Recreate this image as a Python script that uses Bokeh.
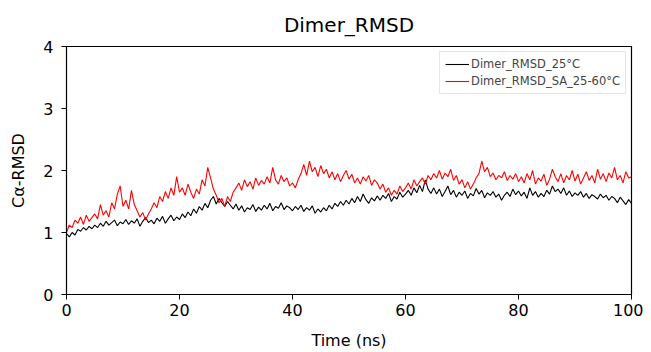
from bokeh.plotting import figure
from bokeh.embed import file_html
from bokeh.resources import INLINE
from bokeh.models import Legend, LegendItem, FixedTicker, Title

time_step = 0.5
time_ns = [i * time_step for i in range(201)]

rmsd_25 = [
    0.98, 0.93, 1.00, 0.96, 1.05, 1.02, 1.08, 1.04, 1.10, 1.06, 1.12,
    1.08, 1.15, 1.10, 1.18, 1.12, 1.16, 1.20, 1.11, 1.17, 1.14,
    1.21, 1.13, 1.19, 1.15, 1.22, 1.10, 1.18, 1.24, 1.16, 1.20,
    1.14, 1.23, 1.18, 1.26, 1.15, 1.22, 1.28, 1.19, 1.25, 1.21,
    1.30, 1.24, 1.33, 1.27, 1.38, 1.31, 1.42, 1.36, 1.47, 1.40,
    1.52, 1.58, 1.46, 1.55, 1.48, 1.42, 1.50, 1.44, 1.38, 1.46,
    1.36, 1.43, 1.33, 1.40, 1.37, 1.45, 1.34, 1.41, 1.36, 1.44,
    1.38, 1.47, 1.35, 1.42, 1.39, 1.48, 1.37, 1.43, 1.40, 1.35,
    1.42, 1.37, 1.44, 1.34, 1.40, 1.36, 1.43, 1.31, 1.38, 1.33,
    1.40, 1.35, 1.44, 1.38, 1.47, 1.42, 1.50, 1.44, 1.52, 1.46,
    1.55, 1.48, 1.58, 1.50, 1.62, 1.53, 1.47, 1.56, 1.51, 1.59,
    1.52, 1.60, 1.55, 1.63, 1.50, 1.58, 1.54, 1.65, 1.57, 1.62,
    1.68, 1.60, 1.72, 1.64, 1.76, 1.66, 1.85, 1.70, 1.63, 1.72,
    1.62, 1.70, 1.58, 1.66, 1.75, 1.61, 1.68, 1.57, 1.65, 1.60,
    1.67, 1.55, 1.63, 1.59, 1.71, 1.62, 1.68, 1.56, 1.64, 1.60,
    1.66, 1.57, 1.62, 1.52, 1.60, 1.65, 1.58, 1.70, 1.61, 1.67,
    1.59, 1.65, 1.55, 1.72, 1.60, 1.66, 1.57, 1.63, 1.58, 1.68,
    1.62, 1.75, 1.66, 1.70, 1.63, 1.72, 1.60, 1.67, 1.58, 1.64,
    1.60, 1.66, 1.57, 1.63, 1.55, 1.61, 1.58, 1.54, 1.62, 1.56,
    1.60, 1.52, 1.58, 1.55, 1.48, 1.57, 1.51, 1.45, 1.53, 1.47,
]

rmsd_sa = [
    1.00, 1.12, 1.08, 1.20, 1.15, 1.25, 1.13, 1.28, 1.18, 1.24, 1.30,
    1.22, 1.45, 1.28, 1.35, 1.25, 1.48, 1.38, 1.62, 1.75, 1.42,
    1.52, 1.38, 1.68, 1.45, 1.35, 1.25, 1.32, 1.20, 1.30, 1.38,
    1.48, 1.40, 1.58, 1.50, 1.66, 1.55, 1.72, 1.60, 1.90, 1.65,
    1.72, 1.60, 1.78, 1.65, 1.55, 1.70, 1.62, 1.85, 1.75, 2.05,
    1.88, 1.70, 1.60, 1.48, 1.55, 1.42, 1.58, 1.50, 1.65, 1.72,
    1.80, 1.68, 1.85, 1.74, 1.82, 1.70, 1.88, 1.76, 1.84, 1.78,
    1.90, 1.80, 2.05, 1.85, 1.78, 1.92, 1.82, 1.88, 1.75, 1.80,
    1.72, 1.85, 1.95, 2.10, 1.92, 2.15, 1.98, 2.05, 1.90, 2.08,
    1.95, 2.02, 1.88, 1.98, 1.85, 1.95, 1.82, 1.92, 2.00, 1.86,
    1.94, 1.80, 1.88, 1.78, 1.90, 1.83, 1.92, 1.76, 1.85, 1.80,
    1.70, 1.78, 1.65, 1.72, 1.60, 1.68, 1.62, 1.75, 1.66, 1.72,
    1.80, 1.70, 1.85, 1.75, 1.82, 1.88, 1.78, 1.92, 1.85, 1.95,
    1.88, 2.00, 1.86, 1.96, 1.90, 2.02, 1.84, 1.92, 1.78, 1.85,
    1.72, 1.82, 1.70, 1.78, 1.88, 1.95, 2.15, 1.98, 2.05, 1.90,
    1.96, 1.85, 1.92, 1.88, 1.98, 1.84, 1.92, 1.86, 1.95, 1.82,
    1.90, 1.80, 1.95, 1.85, 2.00, 1.78, 1.88, 1.83, 1.94, 1.76,
    1.86, 2.02, 1.90, 1.82, 1.95, 1.80, 1.92, 1.85, 2.00, 1.83,
    1.94, 1.78, 1.88, 1.98, 1.84, 1.92, 1.80, 2.02, 1.86, 1.95,
    1.82, 1.96, 1.88, 2.05, 1.85, 1.92, 1.80, 1.98, 1.88, 1.90,
]

x_ticks = [0, 20, 40, 60, 80, 100]
y_ticks = [0, 1, 2, 3, 4]
label_25 = "Dimer_RMSD_25°C"
label_sa = "Dimer_RMSD_SA_25-60°C"

FONT = "DejaVu Sans"

p = figure(width=643, height=352, x_range=(0, 100), y_range=(0, 4),
           output_backend="svg", toolbar_location=None,
           title="Dimer_RMSD", min_border_left=66, min_border_right=12,
           min_border_top=46, min_border_bottom=57)

p.title.align = "center"
p.title.text_font = FONT
p.title.text_font_size = "20px"
p.title.text_font_style = "normal"
p.title.text_color = "#000000"
p.title.standoff = 4

# thin spacer between the title and the frame
p.add_layout(Title(text=" ", text_font_size="5px", standoff=0), "above")

r1 = p.line(time_ns, rmsd_25, line_color="black", line_width=1.1)
r2 = p.line(time_ns, rmsd_sa, line_color="#ff0000", line_width=1.1)

p.xgrid.visible = False
p.ygrid.visible = False
p.outline_line_color = "black"
p.outline_line_width = 1.2

for ax in (p.xaxis[0], p.yaxis[0]):
    ax.major_label_text_font = FONT
    ax.major_label_text_font_size = "16px"
    ax.major_label_text_color = "#000000"
    ax.axis_label_text_font = FONT
    ax.axis_label_text_font_size = "16px"
    ax.axis_label_text_font_style = "normal"
    ax.axis_label_text_color = "#000000"
    ax.minor_tick_line_color = None
    ax.major_tick_out = 5
    ax.major_tick_in = 0
    ax.major_tick_line_color = "black"
    ax.axis_line_color = "black"

p.xaxis.ticker = FixedTicker(ticks=x_ticks)
p.yaxis.ticker = FixedTicker(ticks=y_ticks)
p.xaxis.axis_label = "Time (ns)"
p.yaxis.axis_label = "Cα-RMSD"
p.xaxis.axis_label_standoff = 12
p.yaxis.axis_label_standoff = 12
p.xaxis.major_label_standoff = 4
p.yaxis.major_label_standoff = 8

legend = Legend(items=[LegendItem(label=label_25, renderers=[r1]),
                       LegendItem(label=label_sa, renderers=[r2])],
                location="top_right")
legend.label_text_font = FONT
legend.label_text_font_size = "11.5px"
legend.label_height = 14
legend.glyph_width = 24
legend.glyph_height = 14
legend.spacing = 3
legend.padding = 5
legend.margin = 5
legend.label_standoff = 2
legend.border_line_color = "#cccccc"
legend.border_line_width = 1
legend.background_fill_alpha = 0.8
p.add_layout(legend)

open("out.html", "w").write(file_html(p, INLINE))
